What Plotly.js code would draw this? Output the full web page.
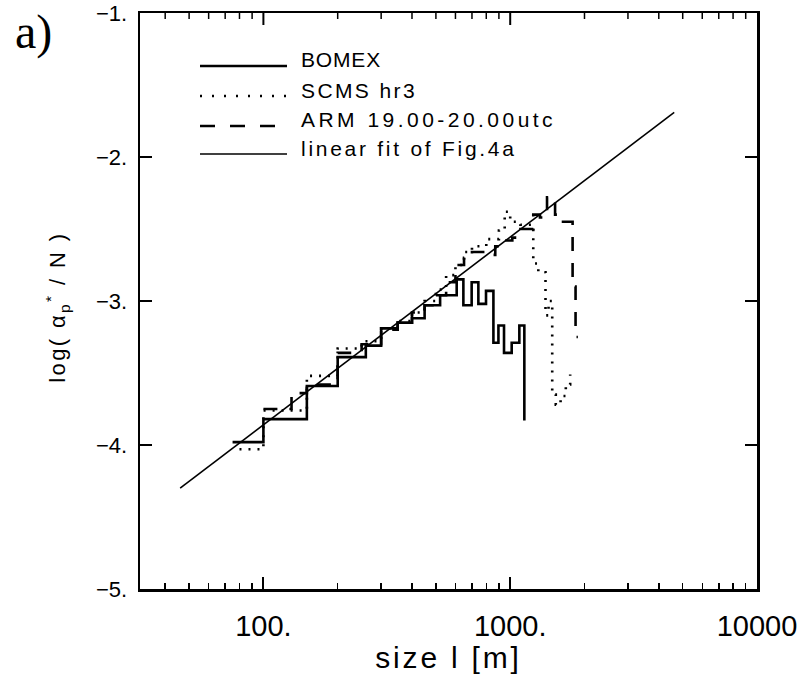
<!DOCTYPE html>
<html>
<head>
<meta charset="utf-8">
<script src="https://cdn.plot.ly/plotly-3.0.1.min.js"></script>
<style>html,body{margin:0;padding:0;background:#fff;}#chart{width:811px;height:674px;}</style>
</head>
<body>
<div id="chart"></div>
<script>
// ---- data ----
const bomexX = [75, 100, 150, 200, 260, 300, 350, 400, 450, 520, 607, 646, 698, 743, 798, 855, 896, 944, 1014, 1089, 1141];
const bomexY = [-3.98, -3.82, -3.59, -3.39, -3.31, -3.19, -3.15, -3.12, -3.03, -2.96, -2.85, -3.03, -2.87, -3.02, -2.93, -3.29, -3.17, -3.36, -3.29, -3.17, -3.83];

const scmsX = [80, 100, 150, 200, 250, 300, 350, 400, 450, 500, 550, 600, 650, 700, 800, 900, 950, 1000, 1100, 1240, 1300, 1390, 1430, 1480, 1530, 1600, 1680, 1750];
const scmsY = [-4.03, -3.76, -3.52, -3.33, -3.28, -3.19, -3.14, -3.08, -3.00, -2.92, -2.82, -2.75, -2.66, -2.62, -2.57, -2.51, -2.38, -2.45, -2.47, -2.74, -2.80, -3.10, -3.00, -3.65, -3.72, -3.66, -3.58, -3.51];

const armX = [100, 130, 150, 200, 250, 300, 350, 400, 450, 500, 550, 600, 650, 700, 800, 870, 950, 1020, 1100, 1240, 1320, 1410, 1520, 1600, 1790, 1840, 1880];
const armY = [-3.75, -3.64, -3.58, -3.36, -3.30, -3.20, -3.15, -3.08, -3.03, -2.96, -2.87, -2.75, -2.70, -2.66, -2.68, -2.62, -2.58, -2.56, -2.50, -2.40, -2.42, -2.28, -2.40, -2.45, -2.90, -3.25, -3.25];

const fitX = [46, 4620];
const fitY = [-4.30, -1.69];

const seriesNames = ["BOMEX", "SCMS hr3", "ARM 19.00-20.00utc", "linear fit of Fig.4a"];
const xTickAlias = {"100": "100.", "1000": "1000.", "10,000": "10000"};
const yTickVals = [-5, -4, -3, -2, -1];
const yTickText = ["\u22125.", "\u22124.", "\u22123.", "\u22122.", "\u22121."];
const xTitle = "size l [m]";
const yTitle = "log( α<sub>p</sub><sup>*</sup> / N )";

// ---- plot ----
const FONT = "Liberation Sans, Arial, sans-serif";
const traces = [
  {x: bomexX, y: bomexY, name: seriesNames[0], mode: "lines", line: {shape: "hv", color: "#000", width: 2.6}},
  {x: scmsX, y: scmsY, name: seriesNames[1], mode: "lines", line: {shape: "hv", color: "#000", width: 2.6, dash: "2px,7px"}},
  {x: armX, y: armY, name: seriesNames[2], mode: "lines", line: {shape: "hv", color: "#000", width: 2.6, dash: "14px,12px"}},
  {x: fitX, y: fitY, name: seriesNames[3], mode: "lines", line: {color: "#000", width: 1.6}}
];

const X_RANGE_LOG = [1.5, 4];
const PT = 13, PB = 589, PL = 140, PR = 757;
const px2x = X => (X - PL) / (PR - PL);
const px2y = Y => (PB - Y) / (PB - PT);
const shapes = [], annotations = [];

// legend drawn inside the frame like the original (long line samples)
const legRowsY = [66, 96, 126, 154];
const legDash = ["solid", "2px,10px", "15px,15px", "solid"];
const legWidth = [2.6, 2.6, 2.6, 1.6];
const legTextWidth = [80, 116, 255, 216]; // rendered widths of the wide vector font
seriesNames.forEach((n, i) => {
  shapes.push({type: "line", xref: "paper", yref: "paper", x0: px2x(200), x1: px2x(287), y0: px2y(legRowsY[i]), y1: px2y(legRowsY[i]),
    line: {color: "#000", width: legWidth[i], dash: legDash[i]}});
  annotations.push({xref: "paper", yref: "paper", x: px2x(299), y: px2y(legRowsY[i] - 6), xanchor: "left", yanchor: "middle",
    text: n, showarrow: false, font: {family: FONT, size: 21, color: "#000"}});
});

// top-frame tick marks (the mirrored log ticks), placed on the x axis scale at every k*10^d
for (let d = Math.floor(X_RANGE_LOG[0]); d < X_RANGE_LOG[1]; d++) {
  for (let k = 1; k <= 9; k++) {
    const v = k * Math.pow(10, d);
    const lv = Math.log10(v);
    if (lv <= X_RANGE_LOG[0] || lv >= X_RANGE_LOG[1]) continue;
    const major = k === 1;
    shapes.push({type: "line", xref: "x", yref: "paper", x0: v, x1: v, y0: 1, y1: 1 - (major ? 12 : 6) / (PB - PT),
      line: {color: "#000", width: major ? 2 : 1.5}});
  }
}

annotations.push({xref: "paper", yref: "paper", x: px2x(13), y: px2y(32), xanchor: "left", yanchor: "middle",
  text: "a)", showarrow: false, font: {family: "Liberation Serif, Times New Roman, serif", size: 48, color: "#000"}});
// y-axis title, placed where the original puts it
annotations.push({xref: "paper", yref: "paper", x: px2x(57), y: px2y(307), xanchor: "center", yanchor: "middle",
  text: yTitle, textangle: -90, showarrow: false, font: {family: FONT, size: 22, color: "#000"}});

const tickStyle = {ticklen: 12, tickwidth: 2, tickcolor: "#000"};

const layout = {
  width: 811, height: 674,
  margin: {l: 140, r: 54, t: 13, b: 85},
  paper_bgcolor: "#fff", plot_bgcolor: "#fff",
  showlegend: false,
  font: {family: FONT, color: "#000"},
  xaxis: Object.assign({
    type: "log", range: X_RANGE_LOG, tickmode: "linear", tick0: 0, dtick: 1, ticks: "inside",
    exponentformat: "none", labelalias: xTickAlias,
    minor: {ticks: "inside", ticklen: 6, tickwidth: 1.5, tickcolor: "#000", dtick: "D1", showgrid: false},
    showline: true, linewidth: 2.5, linecolor: "#000", mirror: true,
    showgrid: false, zeroline: false, ticklabeloverflow: "allow",
    tickfont: {family: FONT, size: 29, color: "#000"}, ticklabelstandoff: 10,
    title: {text: xTitle, font: {family: FONT, size: 30, color: "#000"}, standoff: 0}
  }, tickStyle),
  yaxis: Object.assign({
    range: [-5, -1], tickmode: "array", tickvals: yTickVals, ticktext: yTickText, ticks: "inside",
    showline: true, linewidth: 2.5, linecolor: "#000", mirror: "ticks",
    showgrid: false, zeroline: false, ticklabeloverflow: "allow",
    tickfont: {family: FONT, size: 22, color: "#000"}, ticklabelstandoff: 6
  }, tickStyle),
  shapes: shapes,
  annotations: annotations
};

Plotly.newPlot("chart", traces, layout, {displayModeBar: false, staticPlot: true}).then(gd => {
  // the original's vector font is wider-spaced than any installed font:
  // widen legend labels to the reference widths, keeping their left edges fixed
  gd.querySelectorAll(".annotation-text").forEach(t => {
    const i = seriesNames.indexOf(t.textContent);
    if (i >= 0) {
      const bb = t.getBBox();
      const s = Math.max(0, (legTextWidth[i] - bb.width) / t.textContent.length);
      t.setAttribute("text-anchor", "start");
      t.setAttribute("x", bb.x);
      t.style.letterSpacing = s.toFixed(2) + "px";
    } else if (t.textContent.indexOf("log(") === 0) {
      t.style.letterSpacing = "2.4px";
    }
  });
  gd.querySelectorAll(".xtitle").forEach(t => { t.style.letterSpacing = "2.8px"; });
});
</script>
</body>
</html>
